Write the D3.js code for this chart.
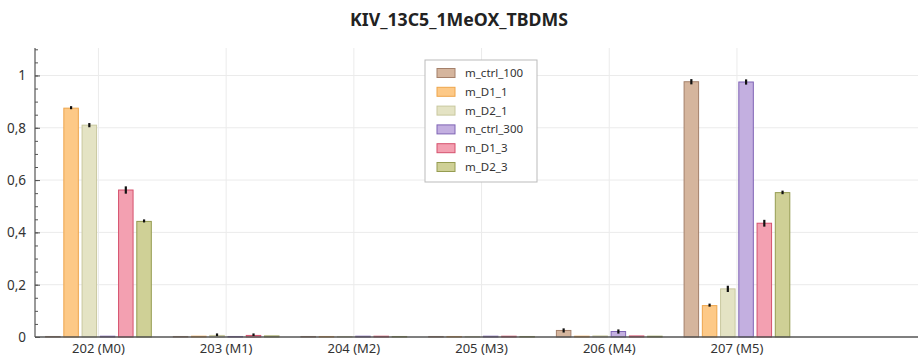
<!DOCTYPE html>
<html>
<head>
<meta charset="utf-8">
<script src="https://cdn.jsdelivr.net/npm/d3@7"></script>
<style>
  body { margin: 0; background: #fff; }
  text { font-family: "Noto Sans", "Open Sans", sans-serif; }
</style>
</head>
<body>
<svg id="chart" width="918" height="364"></svg>
<script>
const TITLE = 'KIV_13C5_1MeOX_TBDMS'
const CATEGORIES = ['202 (M0)', '203 (M1)', '204 (M2)', '205 (M3)', '206 (M4)', '207 (M5)']
const SERIES = ['m_ctrl_100', 'm_D1_1', 'm_D2_1', 'm_ctrl_300', 'm_D1_3', 'm_D2_3']

// one value per category, same order as CATEGORIES
const ctrl100 = [0.002, 0.002, 0.002, 0.002, 0.025, 0.976]
const d1_1 = [0.875, 0.003, 0.002, 0.002, 0.003, 0.120]
const d2_1 = [0.810, 0.006, 0.002, 0.002, 0.004, 0.184]
const ctrl300 = [0.003, 0.002, 0.003, 0.003, 0.021, 0.975]
const d1_3 = [0.562, 0.006, 0.003, 0.003, 0.004, 0.435]
const d2_3 = [0.442, 0.004, 0.002, 0.002, 0.003, 0.552]

const ctrl100Err = [0, 0, 0, 0, 0.008, 0.010]
const d1_1Err = [0.004, 0, 0, 0, 0, 0.004]
const d2_1Err = [0.008, 0.003, 0, 0, 0, 0.012]
const ctrl300Err = [0, 0, 0, 0, 0.008, 0.010]
const d1_3Err = [0.014, 0.002, 0, 0, 0, 0.013]
const d2_3Err = [0.004, 0, 0, 0, 0, 0.006]

const FILLS = ['#d5b59d', '#fdc987', '#e4e3c4', '#c3afe0', '#f3a0b1', '#cfd096']
const STROKES = ['#a4806a', '#eea54c', '#c9c89f', '#7f64b5', '#d5516d', '#959c51']

const values = [ctrl100, d1_1, d2_1, ctrl300, d1_3, d2_3]
const errors = [ctrl100Err, d1_1Err, d2_1Err, ctrl300Err, d1_3Err, d2_3Err]

const svg = d3.select('#chart')
const plotLeft = 35, plotRight = 918, plotTop = 48, plotBottom = 337

const x = d3.scaleBand()
  .domain(CATEGORIES)
  .range([34.6, 800.8])

const xInner = d3.scaleBand()
  .domain(SERIES)
  .range([0, x.bandwidth()])
  .paddingInner(0.15)
  .paddingOuter(0.575)

const y = d3.scaleLinear()
  .domain([0, 1.105])
  .range([plotBottom, plotTop])

const color = d3.scaleOrdinal().domain(SERIES).range(FILLS)
const stroke = d3.scaleOrdinal().domain(SERIES).range(STROKES)

// grid
const grid = svg.append('g').attr('class', 'grid')
grid.selectAll('.hgrid')
  .data([0.2, 0.4, 0.6, 0.8, 1])
  .enter().append('line')
    .attr('x1', plotLeft).attr('x2', plotRight)
    .attr('y1', d => y(d)).attr('y2', d => y(d))
    .style('stroke', '#ebebeb')
grid.selectAll('.vgrid')
  .data(CATEGORIES)
  .enter().append('line')
    .attr('x1', d => x(d) + x.bandwidth() / 2)
    .attr('x2', d => x(d) + x.bandwidth() / 2)
    .attr('y1', plotTop).attr('y2', plotBottom)
    .style('stroke', '#ebebeb')

// bars
const rows = []
CATEGORIES.forEach((c, ci) => {
  SERIES.forEach((s, si) => {
    rows.push({ cat: c, series: s, value: values[si][ci], err: errors[si][ci] })
  })
})

const bars = svg.selectAll('.bar')
  .data(rows)
  .enter()
  .append('g')
    .attr('class', 'bar')
    .attr('transform', d => `translate(${x(d.cat) + xInner(d.series)}, 0)`)

bars.append('rect')
  .attr('x', 0.5)
  .attr('width', xInner.bandwidth() - 1)
  .attr('y', d => y(d.value))
  .attr('height', d => y(0) - y(d.value))
  .style('fill', d => color(d.series))
  .style('stroke', d => stroke(d.series))
  .style('stroke-width', 1)

bars.filter(d => d.err > 0)
  .append('line')
    .attr('x1', xInner.bandwidth() / 2)
    .attr('x2', xInner.bandwidth() / 2)
    .attr('y1', d => y(d.value - d.err))
    .attr('y2', d => Math.min(y(d.value + d.err), y(d.value) - 2))
    .style('stroke', '#111')
    .style('stroke-width', 2.2)

// y axis
svg.append('g')
  .attr('transform', `translate(${plotLeft}, 0)`)
  .call(d3.axisLeft(y)
    .tickValues(d3.range(0, 1.11, 0.05))
    .tickSize(-3)
    .tickFormat(''))
  .call(g => g.select('.domain').remove())
  .selectAll('line').style('stroke', '#555')

svg.append('g')
  .attr('transform', `translate(${plotLeft}, 0)`)
  .call(d3.axisLeft(y)
    .tickValues([0, 0.2, 0.4, 0.6, 0.8, 1])
    .tickSize(-5)
    .tickPadding(9)
    .tickFormat(d => String(+d.toFixed(1)).replace('.', ',')))
  .call(g => g.select('.domain').remove())
  .call(g => g.selectAll('line').style('stroke', '#555'))
  .call(g => g.selectAll('text')
    .style('font-size', '13.5px')
    .style('fill', '#333'))

svg.append('line')
  .attr('x1', plotLeft).attr('x2', plotLeft)
  .attr('y1', plotTop).attr('y2', plotBottom)
  .style('stroke', '#555')
  .style('stroke-width', 1.2)

// x axis
svg.append('g')
  .attr('transform', `translate(0, ${plotBottom})`)
  .call(d3.axisBottom(x).tickSize(0).tickPadding(7))
  .call(g => g.select('.domain').remove())
  .call(g => g.selectAll('text')
    .style('font-size', '13px')
    .style('fill', '#333'))

svg.append('line')
  .attr('x1', plotLeft).attr('x2', plotRight)
  .attr('y1', plotBottom).attr('y2', plotBottom)
  .style('stroke', '#555')
  .style('stroke-width', 1.5)

// title
svg.append('text')
  .attr('x', 459)
  .attr('y', 26)
  .attr('text-anchor', 'middle')
  .style('font-size', '17.7px')
  .style('font-weight', 'bold')
  .style('fill', '#222')
  .text(TITLE)

// legend
const legend = svg.append('g').attr('transform', 'translate(425, 60)')
legend.append('rect')
  .attr('width', 112).attr('height', 122)
  .style('fill', '#fff')
  .style('stroke', '#bbb')

const items = legend.selectAll('.item')
  .data(SERIES)
  .enter().append('g')
    .attr('class', 'item')
    .attr('transform', (d, i) => `translate(12, ${13 + i * 18.8})`)

items.append('rect')
  .attr('y', -4.5)
  .attr('width', 18).attr('height', 9)
  .style('fill', d => color(d))
  .style('stroke', d => stroke(d))

items.append('text')
  .attr('x', 28)
  .attr('dy', '0.35em')
  .style('font-size', '11.5px')
  .style('fill', '#333')
  .text(d => d)
</script>
</body>
</html>
